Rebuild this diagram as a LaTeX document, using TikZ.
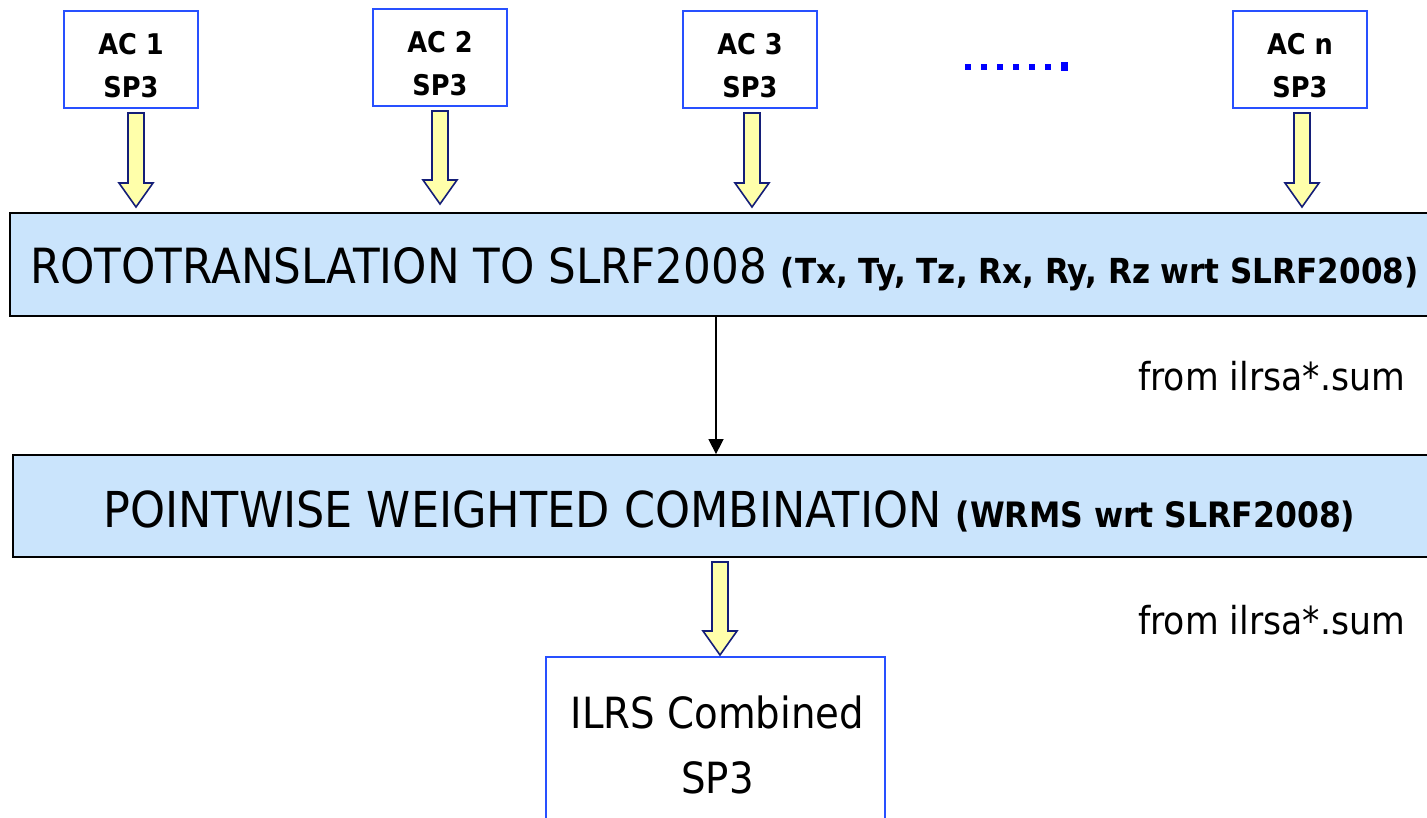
\documentclass[tikz,border=0pt]{standalone}
\usepackage{fontspec}
\setmainfont{DejaVu Sans}[FakeStretch=0.9]
\usetikzlibrary{arrows.meta}
\definecolor{boxblue}{RGB}{40,80,255}
\definecolor{fillblue}{RGB}{202,228,252}
\definecolor{ayellow}{RGB}{255,255,170}
\definecolor{anavy}{RGB}{20,30,120}
\definecolor{dotblue}{RGB}{0,0,255}
\tikzset{
  acbox/.style={draw=boxblue, line width=1.5pt, minimum width=134pt, minimum height=97pt, inner sep=0pt},
  aclbl/.style={inner sep=0pt, anchor=base, font=\bfseries\fontsize{28.5}{34}\selectfont},
  bigbox/.style={draw=black, line width=1.8pt, fill=fillblue, inner sep=0pt},
  yarrow/.style={draw=anavy, fill=ayellow, line width=1.6pt, line join=miter},
  thinarrow/.style={draw=black, line width=1.5pt, -{Triangle[length=15pt,width=15pt]}},
  lbl/.style={inner sep=0pt, anchor=base west},
  dotsq/.style={fill=dotblue, draw=none}
}
\newcommand\yellowarrow[3]{% x, ytop, ytip
  \path[yarrow] (#1-8,#2) -- (#1+8,#2) -- (#1+8,#3-24) -- (#1+17,#3-24) -- (#1,#3) -- (#1-17,#3-24) -- (#1-8,#3-24) -- cycle;}
\begin{document}
\begin{tikzpicture}[x=1pt,y=-1pt]
\useasboundingbox (0,0) rectangle (1427,817);
\clip (0,0) rectangle (1427,817);
% top AC boxes
\node[acbox] (ac1) at (131,59.5) {};
\node[acbox] (ac2) at (440,57.5) {};
\node[acbox] (ac3) at (750,59.5) {};
\node[acbox] (acn) at (1300,59.5) {};
\foreach \b/\t in {ac1/AC 1, ac2/AC 2, ac3/AC 3, acn/AC n} {
  \node[aclbl] (\b a) at ([yshift=-44pt]\b.north) {\t};
  \node[aclbl] (\b b) at ([yshift=-87pt]\b.north) {SP3};
}
% dots
\foreach \k in {0,...,5} { \fill[dotsq] (965+16*\k,64) rectangle (971+16*\k,70); }
\fill[dotsq] (1061,62) rectangle (1068,71);
% big boxes
\node[bigbox, minimum width=1430pt, minimum height=103pt] (rot) at (725,264.5) {};
\node[bigbox, minimum width=1427pt, minimum height=102pt] (comb) at (726.5,506) {};
% yellow arrows
\yellowarrow{136}{113}{207}
\yellowarrow{440}{111}{204}
\yellowarrow{752}{113}{207}
\yellowarrow{1302}{113}{207}
% texts in big boxes
\node[lbl] (rottext) at (30,283) {\fontsize{48.5}{58}\selectfont ROTOTRANSLATION TO SLRF2008 {\bfseries\fontsize{34.5}{40}\selectfont (Tx, Ty, Tz, Rx, Ry, Rz wrt SLRF2008)}};
\node[inner sep=0pt, anchor=base] (combtext) at (729.5,527) {\fontsize{49.5}{58}\selectfont POINTWISE WEIGHTED COMBINATION {\bfseries\fontsize{35}{40}\selectfont (WRMS wrt SLRF2008)}};
% thin arrow
\coordinate (tx) at (716,0);
\draw[thinarrow] (rot.south -| tx) -- (comb.north -| tx);
% from labels
\node[inner sep=0pt, anchor=base east, font=\fontsize{38.5}{46}\selectfont] (from1) at (1405,390) {from ilrsa*.sum};
\node[inner sep=0pt, anchor=base east, font=\fontsize{38.5}{46}\selectfont] (from2) at (1405,634) {from ilrsa*.sum};
% bottom box
\draw[draw=boxblue, line width=1.5pt] (546,840) -- (546,657) -- (885,657) -- (885,840);
\node[inner sep=0pt, anchor=base, font=\fontsize{43}{52}\selectfont] (out1) at (717.5,728) {ILRS Combined};
\node[inner sep=0pt, anchor=base, font=\fontsize{43}{52}\selectfont] (out2) at (717.5,793) {SP3};
\yellowarrow{720}{562}{655}
\end{tikzpicture}
\end{document}
